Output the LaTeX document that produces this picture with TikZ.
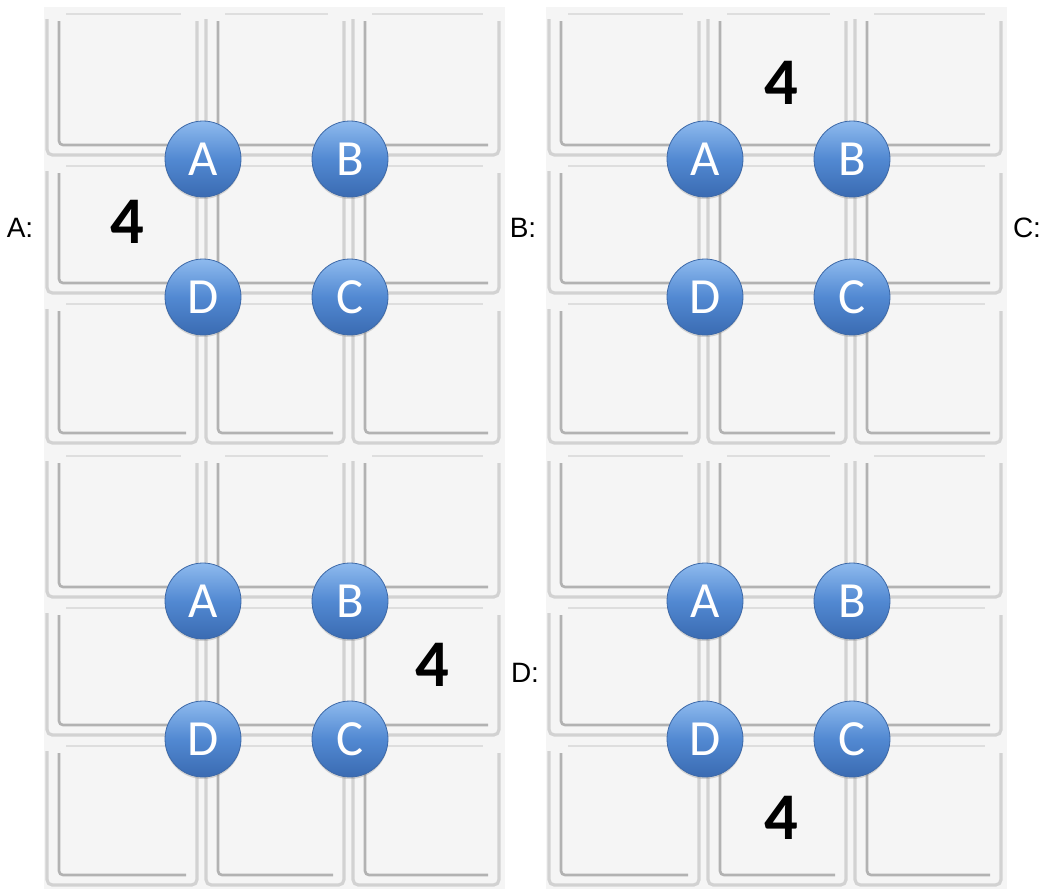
\documentclass[tikz,border=0pt]{standalone}
\usepackage{fontspec}
\setmainfont{Liberation Sans}
\newfontfamily\calibri{Carlito}
\usetikzlibrary{shadows}
\definecolor{panelbg}{HTML}{F5F5F5}
\definecolor{edgeshade}{HTML}{D2D2D2}
\definecolor{edgedark}{HTML}{B2B2B2}
\definecolor{edgelight}{HTML}{DEDEDE}
\definecolor{balltop}{HTML}{8EBAEE}
\definecolor{ballmid}{HTML}{5289D2}
\definecolor{ballbot}{HTML}{3A6BB2}
\definecolor{ballrim}{HTML}{3D69A8}

\tikzset{
  cellouter/.style={draw=edgeshade, line width=2.4pt, rounded corners=4pt},
  cellinner/.style={draw=edgedark, line width=2pt, rounded corners=3pt},
  celltop/.style={draw=edgelight, line width=1.2pt},
  ball/.style={circle, draw=ballrim, line width=0.6pt, inner sep=0pt,
               minimum size=57pt, top color=balltop, bottom color=ballbot,
               middle color=ballmid, text=white,
               font=\calibri\fontsize{38}{38}\selectfont,
               drop shadow={shadow xshift=0pt, shadow yshift=-1.5pt, opacity=0.3}},
  digit/.style={font=\calibri\bfseries\fontsize{50}{50}\selectfont, text=black},
  tag/.style={font=\fontsize{21}{24}\selectfont, text=black}
}

% one 3x3 board with the four balls, shifted to (#2,#3)
\newcommand{\board}[3]{%
  \begin{scope}[shift={(#2,#3)}]
    \foreach \cx/\cxe in {0/159,159/306,306/461}
      \foreach \ry/\rye in {0/152,152/290,290/440} {
        \draw[cellouter] (\cx+3,\ry+12) -- (\cx+3,\rye-4) -- (\cxe-6,\rye-4) -- (\cxe-6,\ry+14);
        \draw[cellinner] (\cx+15,\ry+14) -- (\cx+15,\rye-14) -- (\cxe-17,\rye-14);
        \draw[celltop] (\cx+22,\ry+7) -- (\cxe-22,\ry+7);
      }
    \node[ball] (#1A) at (159,152) {A};
    \node[ball] (#1B) at (306,152) {B};
    \node[ball] (#1D) at (159,290) {D};
    \node[ball] (#1C) at (306,290) {C};
  \end{scope}}

\begin{document}
\begin{tikzpicture}[x=0.75pt, y=-0.75pt]
  \useasboundingbox (0,0) rectangle (1047,890);
  % Two light columns behind the boards
  \fill[panelbg] (44,7) rectangle (505,889);
  \fill[panelbg] (546,7) rectangle (1007,889);
  % Four boards
  \board{a}{44}{7}
  \board{b}{546}{7}
  \board{c}{44}{449}
  \board{d}{546}{449}
  % Where the 4 sits
  \node[digit] (fourA) at (127,222) {4};
  \node[digit] (fourB) at (781,83) {4};
  \node[digit] (fourC) at (432,665) {4};
  \node[digit] (fourD) at (781,818) {4};
  % Option letters
  \node[tag] (tagA) at (20,228) {A:};
  \node[tag] (tagB) at (523,228) {B:};
  \node[tag] (tagC) at (1027,228) {C:};
  \node[tag] (tagD) at (525,673) {D:};
\end{tikzpicture}
\end{document}
